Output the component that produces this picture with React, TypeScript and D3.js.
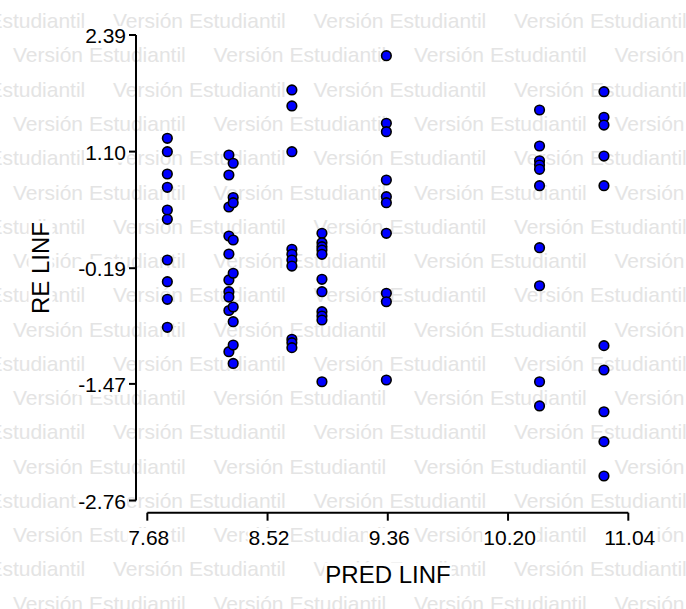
import React, { useEffect, useRef } from "react";
import * as d3 from "d3";

const W = 686;
const H = 609;

const xTicks = [7.68, 8.52, 9.36, 10.2, 11.04];
const xTickLabels = ["7.68", "8.52", "9.36", "10.20", "11.04"];
const yTicks = [2.39, 1.1, -0.19, -1.47, -2.76];
const yTickLabels = ["2.39", "1.10", "-0.19", "-1.47", "-2.76"];

const xTitle = "PRED LINF";
const yTitle = "RE LINF";
const watermark = "Versión Estudiantil";

// residuals per predicted group
const predA = [7.82];
const resA = [1.247, 1.099, 0.852, 0.705, 0.454, 0.351, -0.099, -0.339, -0.534, -0.844];

const predBLeft = [8.25];
const resBLeft = [1.062, 0.841, 0.487, 0.166, -0.033, -0.32, -0.45, -0.509, -0.658, -1.114];
const predBRight = [8.28];
const resBRight = [0.971, 0.592, 0.535, 0.122, -0.246, -0.619, -0.782, -1.04, -1.244];

const predC = [8.69];
const resC = [1.782, 1.605, 1.099, 0.019, -0.036, -0.099, -0.166, -0.976, -1.014, -1.069];

const predD = [8.9];
const resD = [0.196, 0.092, 0.048, 0.011, -0.036, -0.313, -0.45, -0.671, -0.719, -0.763, -1.446];

const predE = [9.35];
const resE = [2.161, 1.413, 1.32, 0.786, 0.601, 0.535, 0.196, -0.468, -0.561, -1.427];

const predF = [10.42];
const resF = [1.56, 1.162, 0.999, 0.952, 0.904, 0.723, 0.037, -0.384, -1.446, -1.714];

const predG = [10.87];
const resG = [1.763, 1.48, 1.394, 1.051, 0.723, -1.047, -1.316, -1.778, -2.109, -2.489];

const groups: [number[], number[]][] = [
  [predA, resA],
  [predBLeft, resBLeft],
  [predBRight, resBRight],
  [predC, resC],
  [predD, resD],
  [predE, resE],
  [predF, resF],
  [predG, resG],
];

export default function App() {
  const ref = useRef<SVGSVGElement | null>(null);

  useEffect(() => {
    const svg = d3.select(ref.current);
    svg.selectAll("*").remove();
    const font = "'Liberation Sans', Arial, sans-serif";

    const x = d3.scaleLinear().domain([7.68, 11.04]).range([147.3, 628.3]);
    const y = d3.scaleLinear().domain([-2.76, 2.39]).range([500.5, 35]);

    svg.append("rect").attr("width", W).attr("height", H).attr("fill", "#fff");

    // watermark
    const wm = svg.append("g");
    const rowStep = 34.26;
    for (let k = 0; k < 18; k++) {
      const baseY = 20.7 + rowStep * k + 7.5;
      const start = k % 2 === 0 ? -87.5 : 13;
      for (let j = 0; j < 5; j++) {
        wm.append("text")
          .attr("x", start + j * 200.5)
          .attr("y", baseY)
          .attr("font-family", font)
          .attr("font-size", 21)
          .attr("fill", "#e4e4e4")
          .text(watermark);
      }
    }

    const labelWithBg = (
      g: d3.Selection<SVGGElement, unknown, null, undefined>,
      tx: number,
      ty: number,
      txt: string,
      anchor: string,
      size: number,
      rotate = 0
    ) => {
      const grp = g.append("g").attr("transform", `translate(${tx},${ty}) rotate(${rotate})`);
      const rect = grp.append("rect").attr("fill", "#fff");
      const t = grp
        .append("text")
        .attr("text-anchor", anchor)
        .attr("font-family", font)
        .attr("font-size", size)
        .attr("fill", "#000")
        .text(txt);
      const bb = (t.node() as SVGTextElement).getBBox();
      rect
        .attr("x", bb.x - 1)
        .attr("y", bb.y + 2)
        .attr("width", bb.width + 2)
        .attr("height", bb.height - 3);
    };

    const lab = svg.append("g");
    // y tick labels
    yTicks.forEach((v, i) => labelWithBg(lab, 126, y(v) + 8, yTickLabels[i], "end", 21));
    // x tick labels
    xTicks.forEach((v, i) => labelWithBg(lab, x(v) + 1.5, 545, xTickLabels[i], "middle", 21));
    // titles
    labelWithBg(lab, 388, 582.5, xTitle, "middle", 24);
    labelWithBg(lab, 48.5, 268, yTitle, "middle", 24, -90);

    // axes
    const ax = svg.append("g").attr("stroke", "#000").attr("stroke-width", 2).attr("fill", "none");
    ax.append("line").attr("x1", 136).attr("x2", 136).attr("y1", y(2.39)).attr("y2", y(-2.76));
    yTicks.forEach((v) => {
      ax.append("line").attr("x1", 129).attr("x2", 136).attr("y1", y(v)).attr("y2", y(v));
    });
    ax.append("line").attr("x1", x(7.68)).attr("x2", x(11.04)).attr("y1", 512.7).attr("y2", 512.7);
    xTicks.forEach((v) => {
      ax.append("line").attr("x1", x(v)).attr("x2", x(v)).attr("y1", 512.7).attr("y2", 520.7);
    });

    // points
    const pts = svg.append("g");
    groups.forEach(([px, rs]) => {
      rs.forEach((r) => {
        pts.append("circle")
          .attr("cx", x(px[0]))
          .attr("cy", y(r))
          .attr("r", 4.8)
          .attr("fill", "#0000ff")
          .attr("stroke", "#000")
          .attr("stroke-width", 1.6);
      });
    });
  }, []);

  return (
    <svg
      ref={ref}
      width={W}
      height={H}
      style={{ position: "absolute", left: 0, top: 0, display: "block" }}
    />
  );
}
